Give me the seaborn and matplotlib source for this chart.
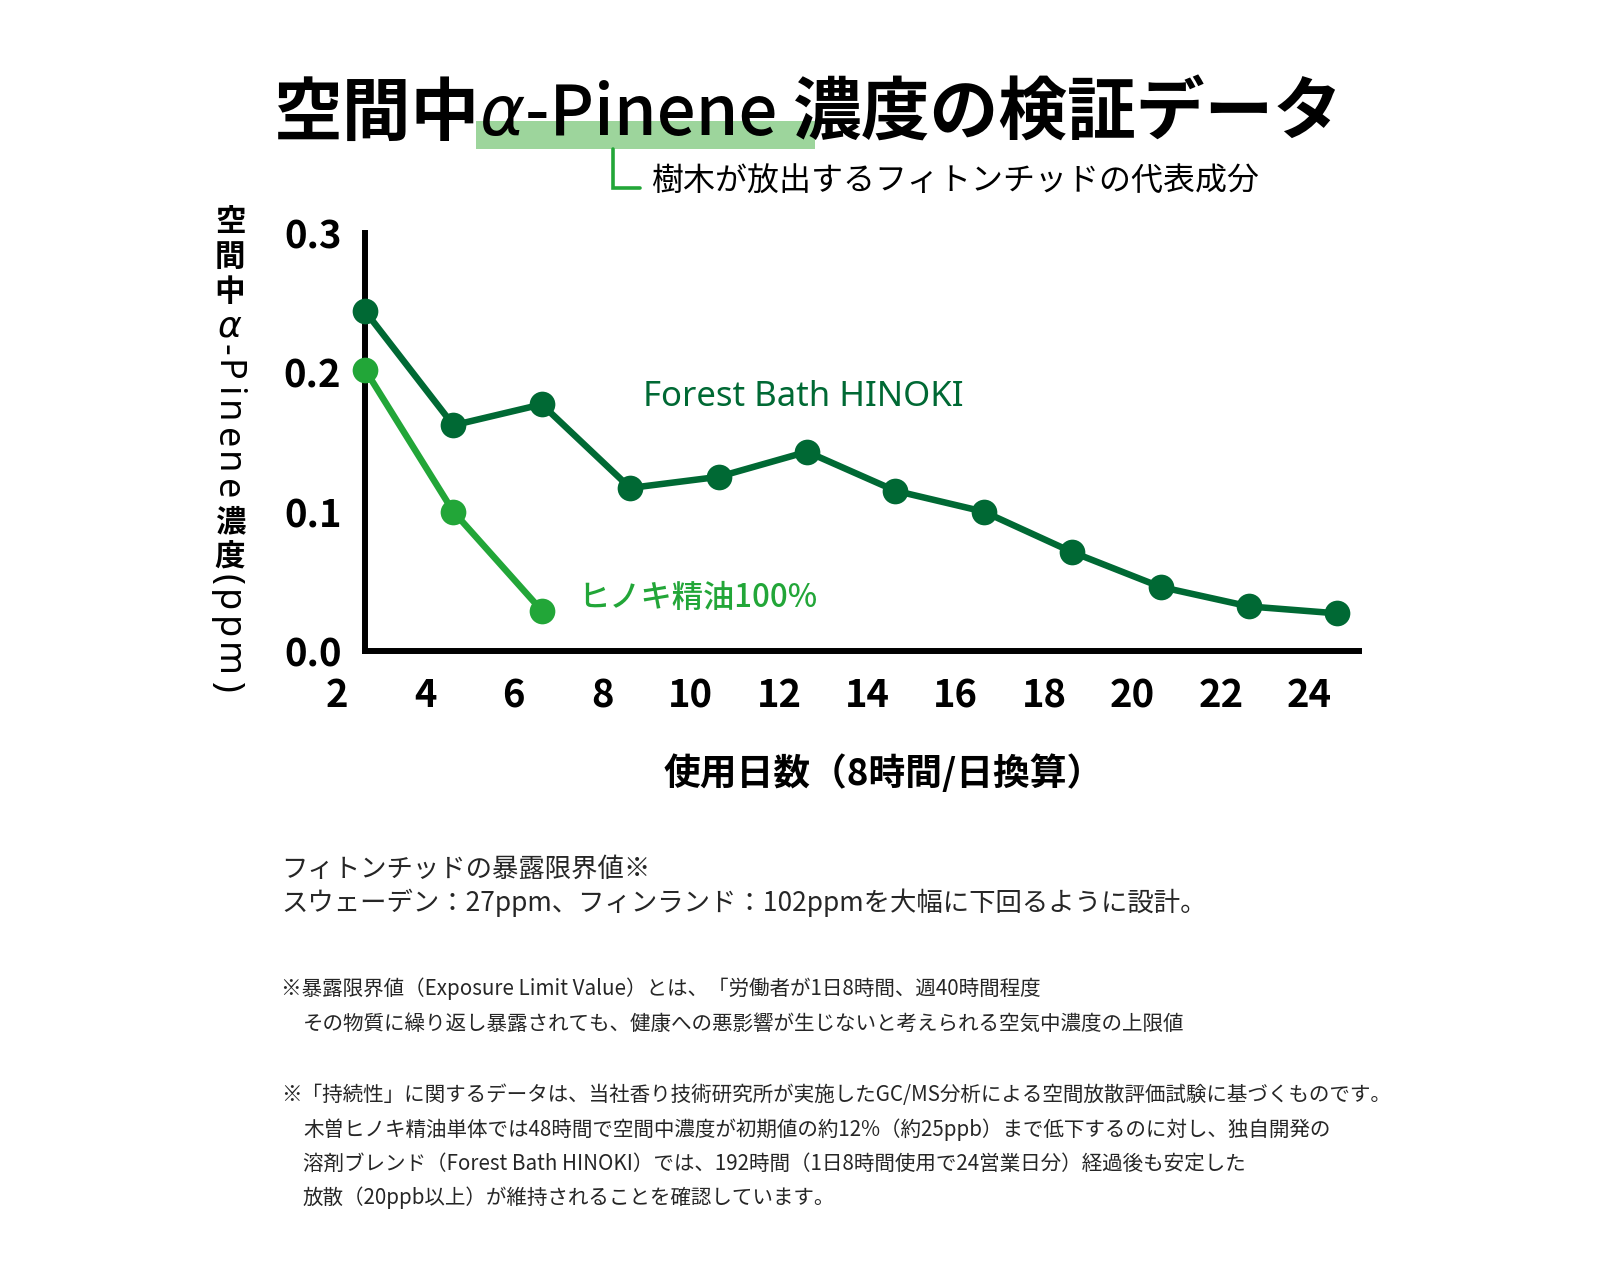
import numpy as np
import pandas as pd
import matplotlib
matplotlib.use("Agg")
import matplotlib.pyplot as plt
import matplotlib.transforms as mtransforms
from matplotlib.patches import Rectangle
from matplotlib.lines import Line2D
import seaborn as sns

# data
days = [2, 4, 6, 8, 10, 12, 14, 16, 18, 20, 22, 24]
forest_bath = [0.244, 0.162, 0.177, 0.117, 0.125, 0.143, 0.115, 0.100, 0.071, 0.046, 0.032, 0.027]
hinoki_days = [2, 4, 6]
hinoki_oil = [0.202, 0.100, 0.029]
y_ticks = [0.0, 0.1, 0.2, 0.3]
x_labels = [str(d) for d in days]

DARK = "#006934"
LIGHT = "#22a638"
HILITE = "#9dd59c"
CJK = ["Noto Sans CJK JP", "DejaVu Sans"]
LATIN = ["Noto Sans", "DejaVu Sans"]

sns.set_theme(style="white")
plt.rcParams["font.family"] = CJK

W, H = 1598, 1272
fig = plt.figure(figsize=(W / 100, H / 100), dpi=100)
fig.patch.set_facecolor("white")


def fx(px):
    return px / W


def fy(px):
    return 1 - px / H


ax = fig.add_axes([fx(365), fy(651), fx(1359) - fx(365), fy(233) - fy(651)])
ax.patch.set_alpha(0)

df_fb = pd.DataFrame({"day": days, "ppm": forest_bath})
df_hk = pd.DataFrame({"day": hinoki_days, "ppm": hinoki_oil})
sns.lineplot(data=df_fb, x="day", y="ppm", ax=ax, color=DARK, linewidth=4.7,
             marker="o", markersize=18.5, markeredgewidth=0, clip_on=False, zorder=4)
sns.lineplot(data=df_hk, x="day", y="ppm", ax=ax, color=LIGHT, linewidth=4.7,
             marker="o", markersize=18.5, markeredgewidth=0, clip_on=False, zorder=4)

ax.set_xlim(2, 24.49)
ax.set_ylim(0, 0.3)
sns.despine(ax=ax)
for side in ["left", "bottom"]:
    ax.spines[side].set_color("black")
    ax.spines[side].set_linewidth(4.3)
    ax.spines[side].set_capstyle("projecting")
ax.grid(False)
ax.set_xlabel("")
ax.set_ylabel("")

tick_font = dict(family=CJK, weight="bold", size=27.5)
ax.set_xticks(days)
ax.set_xticklabels(x_labels, **tick_font)
ax.set_yticks(y_ticks)
ax.set_yticklabels([f"{v:.1f}" for v in y_ticks], **tick_font)
ax.tick_params(axis="x", length=0, pad=18, colors="black")
ax.tick_params(axis="y", length=0, pad=17, colors="black")
# day labels sit a little left of the points in the original
shift = mtransforms.ScaledTranslation(-0.28, 0, fig.dpi_scale_trans)
for lab in ax.get_xticklabels():
    lab.set_transform(lab.get_transform() + shift)

# series labels
ax.text(8.3, 0.1825, "Forest Bath HINOKI", color=DARK, fontsize=25,
        family=LATIN, weight="medium", va="center", ha="left")
ax.text(6.82, 0.038, "ヒノキ精油100%", color=LIGHT, fontsize=22.5, weight="medium",
        va="center", ha="left")

renderer = fig.canvas.get_renderer()

# title, drawn as a run of pieces
title_pieces = [
    ("空間中", dict(family=CJK, weight="bold")),
    ("α", dict(family=["DejaVu Sans"], style="oblique", weight="normal")),
    ("-Pinene ", dict(family=CJK, weight="medium")),
    ("濃度の検証データ", dict(family=CJK, weight="bold")),
]
objs = []
for s, kw in title_pieces:
    objs.append(fig.text(0, fy(135), s, fontsize=49.5, va="baseline", ha="left", color="black", zorder=3, **kw))
widths = [o.get_window_extent(renderer).width for o in objs]
x0 = 808 - sum(widths) / 2
for o, w in zip(objs, widths):
    o.set_x(fx(x0))
    x0 += w

fig.patches.append(Rectangle((fx(476), fy(149)), fx(815) - fx(476), fy(121) - fy(149),
                             transform=fig.transFigure, facecolor=HILITE, edgecolor="none", zorder=1))
fig.lines.append(Line2D([fx(613), fx(613), fx(640)], [fy(149), fy(188), fy(188)],
                        transform=fig.transFigure, color=LIGHT, linewidth=2.6,
                        solid_joinstyle="miter", zorder=2))
fig.text(fx(651), fy(182), "樹木が放出するフィトンチッドの代表成分", fontsize=23,
         va="center", ha="left", color="black")

# y axis label in vertical writing: kanji upright, latin letters turned
ylab_pieces = ["空", "間", "中", "α", "-", "P", "i", "n", "e", "n", "e",
               "濃", "度", "(", "p", "p", "m", ")"]
col_x = 230
cjk_pt = 22
lat_pt = 26
gap = 4.5
ytop = 204
for ch in ylab_pieces:
    if ord(ch) > 0x3000:
        em = cjk_pt * 100 / 72
        fig.text(fx(col_x), fy(ytop + 0.88 * em), ch, fontsize=cjk_pt, weight="bold",
                 ha="center", va="baseline", color="black")
        ytop += em + gap
    elif ch == "α":
        t = fig.text(fx(col_x), fy(ytop), ch, fontsize=lat_pt, family=["DejaVu Sans"],
                     style="oblique", ha="center", va="top", color="black")
        ytop += t.get_window_extent(renderer).height + 1
    else:
        t = fig.text(fx(col_x - 13), fy(ytop), ch, fontsize=lat_pt, family=LATIN, weight="medium",
                     rotation=-90, rotation_mode="anchor", ha="left", va="baseline", color="black")
        ytop += t.get_window_extent(renderer).height + gap

fig.text(fx(884), fy(774), "使用日数（8時間/日換算）", fontsize=26.5, weight="bold",
         ha="center", va="center", color="black")

# notes under the chart
body = 19
fig.text(fx(281), fy(869), "フィトンチッドの暴露限界値※", fontsize=body, va="center")
fig.text(fx(281), fy(903), "スウェーデン：27ppm、フィンランド：102ppmを大幅に下回るように設計。",
         fontsize=body, va="center")

small = 14.8
fig.text(fx(281), fy(989), "※暴露限界値（Exposure Limit Value）とは、「労働者が1日8時間、週40時間程度",
         fontsize=small, va="center")
fig.text(fx(303), fy(1024), "その物質に繰り返し暴露されても、健康への悪影響が生じないと考えられる空気中濃度の上限値",
         fontsize=small, va="center")

notes = [
    "※「持続性」に関するデータは、当社香り技術研究所が実施したGC/MS分析による空間放散評価試験に基づくものです。",
    "木曽ヒノキ精油単体では48時間で空間中濃度が初期値の約12%（約25ppb）まで低下するのに対し、独自開発の",
    "溶剤ブレンド（Forest Bath HINOKI）では、192時間（1日8時間使用で24営業日分）経過後も安定した",
    "放散（20ppb以上）が維持されることを確認しています。",
]
for i, line in enumerate(notes):
    fig.text(fx(281 if i == 0 else 303), fy(1095 + 34.3 * i), line, fontsize=small, va="center")

fig.savefig("out.png", dpi=100, facecolor="white")
